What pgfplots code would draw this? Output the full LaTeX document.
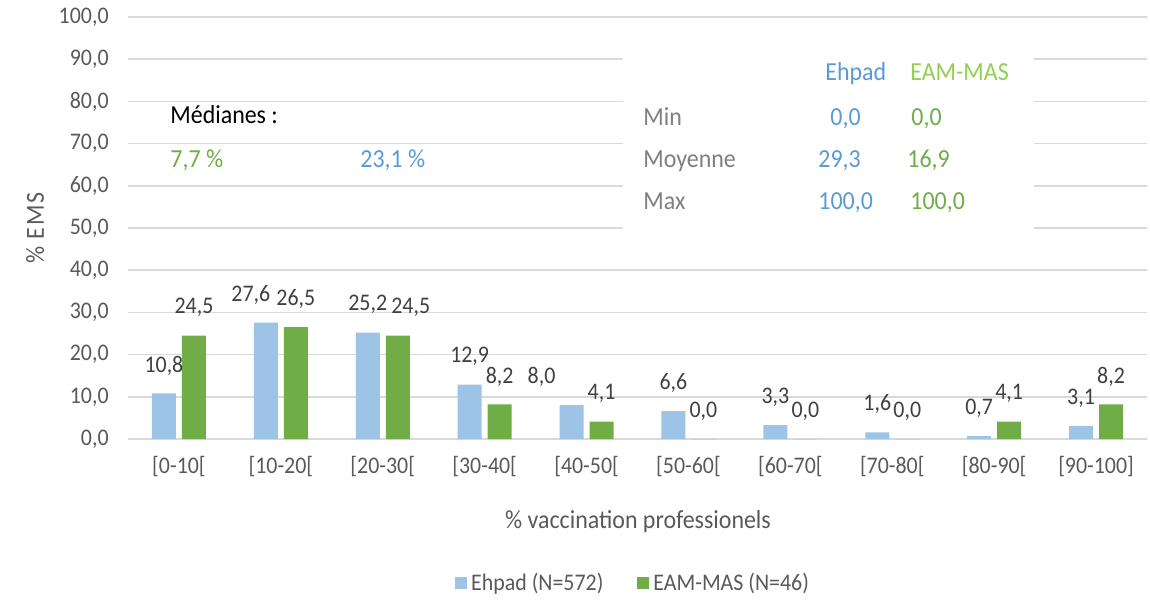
\documentclass[border=0pt]{standalone}
\usepackage{fontspec}
\setmainfont{Carlito}[FakeStretch=0.92]
\usepackage{pgfplots}
\usepackage{pgfplotstable}
\pgfplotsset{compat=1.18}
\definecolor{ehpad}{HTML}{9DC3E6}
\definecolor{eam}{HTML}{70AD47}
\definecolor{gridgray}{HTML}{D9D9D9}
\definecolor{tickgray}{HTML}{595959}
\definecolor{labgray}{HTML}{404040}
\definecolor{statgray}{HTML}{7F7F7F}
\definecolor{blueT}{HTML}{5B9BD5}
\definecolor{limeT}{HTML}{92D050}
\definecolor{greenT}{HTML}{70AD47}
\pgfkeys{/pgf/number format/.cd, fixed, fixed zerofill, precision=1, use comma, assume math mode=true}

\pgfplotstableread{
x y dx
0 10.8 0
1 27.6 -7.5
2 25.2 0
3 12.9 0
4 8.0 -15
5 6.6 0
6 3.3 0
7 1.6 0
8 0.7 0
9 3.1 0
}\ehpadtab

\pgfplotstableread{
x y dx
0 24.5 0
1 26.5 0
2 24.5 6.5
3 8.2 0
4 4.1 0
5 0.0 0
6 0.0 0
7 0.0 0
8 4.1 0
9 8.2 0
}\eamtab

\begin{document}
\begin{tikzpicture}
\useasboundingbox (-64pt,-80.5pt) rectangle (511pt,219.5pt);
\begin{axis}[
  at={(0,0)}, anchor=south west, scale only axis,
  width=509.5pt, height=211pt,
  xmin=-0.5, xmax=9.5, ymin=0, ymax=100,
  ytick={0,10,...,100},
  xtick={0,...,9},
  xticklabels={{[0-10[},{[10-20[},{[20-30[},{[30-40[},{[40-50[},{[50-60[},{[60-70[},{[70-80[},{[80-90[},{[90-100]}},
  axis line style={draw=none},
  major tick length=0pt,
  ymajorgrids,
  grid style={color=gridgray, line width=0.8pt},
  ybar=3pt, bar width=12pt,
  yticklabel style={font=\fontsize{11.9}{14}\selectfont, text=tickgray, anchor=east, inner sep=0pt, xshift=-9.5pt},
  xticklabel style={font=\fontsize{11.9}{14}\selectfont, text=tickgray, anchor=center, inner sep=0pt, yshift=-14pt},
  nodes near coords,
  nodes near coords style={font=\fontsize{11.9}{14}\selectfont, text=labgray, anchor=center, inner sep=0pt, yshift=14pt, xshift=\dx},
  visualization depends on={\thisrow{dx} \as \dx},
  legend style={at={(axis description cs:0.4966,-0.341)}, anchor=center, draw=none, fill=none,
    legend columns=2, font=\fontsize{11.9}{14}\selectfont, text=tickgray,
    /tikz/every even column/.append style={column sep=15pt}},
  legend image code/.code={\fill[#1] (0pt,-3pt) rectangle (6pt,3pt);},
]
\addplot[fill=ehpad, draw=none] table[x=x, y=y] {\ehpadtab};
\addplot[fill=eam, draw=none] table[x=x, y=y] {\eamtab};
\legend{Ehpad (N=572), EAM-MAS (N=46)}
\end{axis}
% white box of the statistics table
\fill[white] (247.5pt,97pt) rectangle (453pt,199.5pt);
\begin{scope}[every node/.style={inner sep=0pt, anchor=base west, font=\fontsize{13}{15}\selectfont}]
\node[text=black] at (21pt,157.5pt) {Médianes :};
\node[text=greenT] at (21pt,135.5pt) {7,7 \%};
\node[text=blueT] at (116pt,135.5pt) {23,1 \%};
\node[text=statgray] at (257.5pt,156.5pt) {Min};
\node[text=statgray] at (257.5pt,135.5pt) {Moyenne};
\node[text=statgray] at (257.5pt,114.5pt) {Max};
\node[text=blueT] at (348.5pt,179pt) {Ehpad};
\node[text=limeT] at (391pt,179pt) {EAM-MAS};
\node[text=blueT] at (351pt,156.5pt) {0,0};
\node[text=blueT] at (345pt,135.5pt) {29,3};
\node[text=blueT] at (345pt,114.5pt) {100,0};
\node[text=greenT] at (391.5pt,156.5pt) {0,0};
\node[text=greenT] at (389.5pt,135.5pt) {16,9};
\node[text=greenT] at (391pt,114.5pt) {100,0};
\end{scope}
\node[rotate=90, text=tickgray, font=\fontsize{13}{15}\selectfont\addfontfeature{LetterSpace=8}] at (-46.5pt,105.5pt) {\% EMS};
\node[text=tickgray, font=\fontsize{13}{15}\selectfont] at (255pt,-41.5pt) {\% vaccination professionels};
\end{tikzpicture}
\end{document}
